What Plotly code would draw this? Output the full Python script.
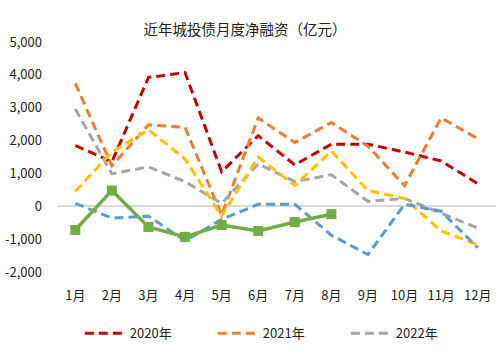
import plotly.graph_objects as go

months = ["1月", "2月", "3月", "4月", "5月", "6月", "7月", "8月", "9月", "10月", "11月", "12月"]

y2020 = [1850, 1350, 3920, 4070, 1050, 2150, 1260, 1890, 1890, 1650, 1380, 690]
y2021 = [3740, 1230, 2480, 2400, -270, 2690, 1940, 2550, 1830, 630, 2690, 2060]
y2022 = [2960, 990, 1200, 750, 90, 1290, 750, 960, 150, 240, -210, -660]
y2023 = [450, 1650, 2330, 1440, -300, 1500, 630, 1680, 480, 240, -750, -1170]
y2024 = [90, -360, -300, -1050, -400, 60, 60, -880, -1470, 60, -150, -1260]
y2025 = [-720, 480, -630, -930, -570, -750, -480, -240]

ytick_vals = [5000, 4000, 3000, 2000, 1000, 0, -1000, -2000]
ytick_text = ["5,000", "4,000", "3,000", "2,000", "1,000", "0", "-1,000", "-2,000"]

title_text = "近年城投债月度净融资（亿元）"
FONT = "Noto Sans CJK SC"

fig = go.Figure()

dash = "9px,5px"
series = [
    ("2020年", y2020, "#C00000", True),
    ("2021年", y2021, "#ED7D31", True),
    ("2022年", y2022, "#A5A5A5", True),
    ("2023年", y2023, "#FFC000", False),
    ("2024年", y2024, "#5B9BD5", False),
]
for name, vals, col, show in series:
    fig.add_trace(go.Scatter(
        x=months[:len(vals)], y=vals, name=name, mode="lines",
        line=dict(color=col, width=3, dash=dash),
        showlegend=show,
    ))

fig.add_trace(go.Scatter(
    x=months[:len(y2025)], y=y2025, name="2025年", mode="lines+markers",
    line=dict(color="#70AD47", width=3.5),
    marker=dict(symbol="square", size=10, color="#70AD47"),
    showlegend=False,
))

fig.update_layout(
    width=502, height=354,
    margin=dict(l=57, r=6, t=42, b=79),
    paper_bgcolor="white", plot_bgcolor="white",
    font=dict(family=FONT, size=13, color="#222222"),
    title=dict(text=title_text, x=0.488, xanchor="center", xref="container",
               y=1 - 30 / 354, yanchor="middle", yref="container",
               font=dict(family=FONT, size=14.5, color="#222222")),
    showlegend=True,
    legend=dict(orientation="h", x=0.052, xanchor="left", y=-0.267, yanchor="middle",
                entrywidth=78, entrywidthmode="pixels",
                font=dict(family=FONT, size=13, color="#222222"),
                itemwidth=40, bgcolor="rgba(0,0,0,0)"),
)

fig.update_xaxes(
    type="category", categoryorder="array", categoryarray=months,
    range=[-0.5, 11.5], showgrid=False, zeroline=False, showline=False,
    ticks="", ticklabelstandoff=14,
)
fig.update_yaxes(
    range=[-2000, 5000], tickvals=ytick_vals, ticktext=ytick_text,
    showgrid=False, zeroline=True, zerolinecolor="#D9D9D9", zerolinewidth=1.5,
    showline=False, ticks="", ticklabelstandoff=14,
)

fig.write_html("out.html")
